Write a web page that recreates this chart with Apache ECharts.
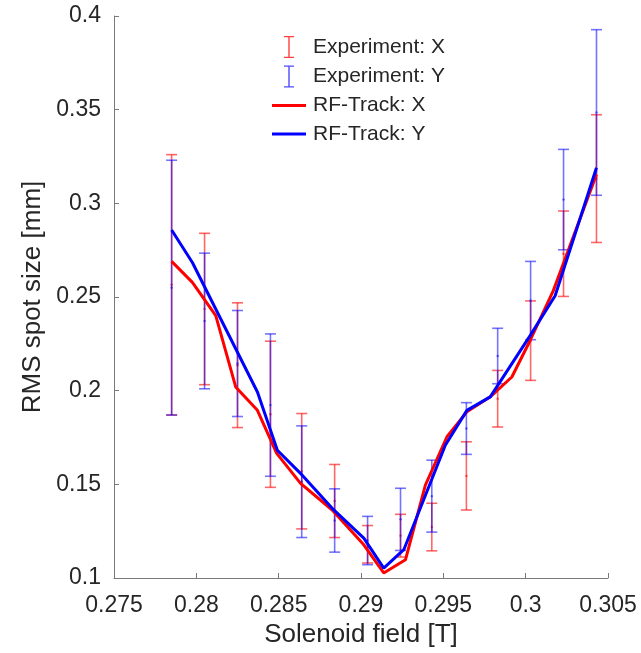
<!DOCTYPE html>
<html>
<head>
<meta charset="utf-8">
<script src="https://cdn.jsdelivr.net/npm/echarts@6/dist/echarts.min.js"></script>
<style>html,body{margin:0;padding:0;background:#fff;}#c{width:641px;height:653px;}</style>
</head>
<body>
<div id="c"></div>
<script>
// Experiment field values [T]
const expField = [0.2785, 0.2805, 0.2825, 0.2845, 0.2864, 0.2884, 0.2904, 0.2924, 0.2943, 0.2964, 0.2983, 0.3003, 0.3023, 0.3043];
// Experiment X: mean and error [mm]
const expXMean = [0.2565, 0.2436, 0.2136, 0.1874, 0.1570, 0.1411, 0.1180, 0.1226, 0.1272, 0.1545, 0.1957, 0.2267, 0.2731, 0.3132];
const expXErr  = [0.0695, 0.0404, 0.0333, 0.0390, 0.0308, 0.0195, 0.0100, 0.0114, 0.0127, 0.0182, 0.0151, 0.0212, 0.0228, 0.0341];
// Experiment Y: mean and error [mm]
const expYMean = [0.2550, 0.2372, 0.2145, 0.1923, 0.1514, 0.1307, 0.1200, 0.1313, 0.1437, 0.1798, 0.2185, 0.2481, 0.3020, 0.3485];
const expYErr  = [0.0680, 0.0362, 0.0283, 0.0380, 0.0298, 0.0169, 0.0129, 0.0166, 0.0192, 0.0138, 0.0148, 0.0209, 0.0268, 0.0442];
// RF-Track simulation X
const simXField = [0.2785, 0.27976, 0.28118, 0.28239, 0.28371, 0.28488, 0.28633, 0.28825, 0.29017, 0.29138, 0.29270, 0.29391, 0.29522, 0.29643, 0.29785, 0.29916, 0.30027, 0.30168, 0.3043];
const simXSize  = [0.2690, 0.2578, 0.2401, 0.2020, 0.1895, 0.1665, 0.1505, 0.1363, 0.1177, 0.1027, 0.1097, 0.1496, 0.1754, 0.1887, 0.1967, 0.2073, 0.2268, 0.2534, 0.3154];
// RF-Track simulation Y
const simYField = [0.2785, 0.27976, 0.28371, 0.28492, 0.28643, 0.28825, 0.29017, 0.29138, 0.29260, 0.29512, 0.29643, 0.29785, 0.30027, 0.30179, 0.3043];
const simYSize  = [0.2858, 0.2684, 0.1993, 0.1682, 0.1549, 0.1372, 0.1213, 0.1053, 0.1151, 0.1709, 0.1895, 0.1967, 0.2294, 0.2507, 0.3190];
// Tick labels
const xTicks = ['0.275', '0.28', '0.285', '0.29', '0.295', '0.3', '0.305'];
const yTicks = ['0.1', '0.15', '0.2', '0.25', '0.3', '0.35', '0.4'];

const FONT = 'Liberation Sans, Arial, sans-serif';
const TXT = '#262626';
const AX = '#7a7a7a';

function errData(mean, err) {
  return expField.map((x, i) => [x, mean[i] - err[i], mean[i] + err[i], mean[i]]);
}
function errRender(color) {
  return function (params, api) {
    const x = api.value(0);
    const lo = api.coord([x, api.value(1)]);
    const hi = api.coord([x, api.value(2)]);
    const mid = api.coord([x, api.value(3)]);
    const w = 5.5;
    const st = { stroke: color, lineWidth: 1.6, fill: null };
    return {
      type: 'group',
      children: [
        { type: 'line', shape: { x1: lo[0], y1: lo[1], x2: hi[0], y2: hi[1] }, style: st },
        { type: 'line', shape: { x1: lo[0] - w, y1: lo[1], x2: lo[0] + w, y2: lo[1] }, style: st },
        { type: 'line', shape: { x1: hi[0] - w, y1: hi[1], x2: hi[0] + w, y2: hi[1] }, style: st },
        { type: 'circle', shape: { cx: mid[0], cy: mid[1], r: 1.2 }, style: { fill: color } }
      ]
    };
  };
}
const redErr = 'rgba(255,0,0,0.6)';
const blueErr = 'rgba(0,0,255,0.55)';
const ibeam = 'path://M0,0h10v1.3h-4.3v19.4h4.3v1.3h-10v-1.3h4.3v-19.4h-4.3z';
const lineIcon = 'path://M0,0h34v3h-34z';

const chart = echarts.init(document.getElementById('c'), null, { renderer: 'canvas' });
chart.setOption({
  animation: false,
  backgroundColor: '#fff',
  grid: { left: 114, right: 33, top: 16, bottom: 73, containLabel: false },
  legend: {
    orient: 'vertical',
    left: 267,
    top: 31,
    itemGap: 7.5,
    itemWidth: 34,
    itemHeight: 22,
    textStyle: { fontFamily: FONT, fontSize: 21, color: TXT, padding: [0, 0, 0, 2] },
    data: [
      { name: 'Experiment: X', icon: ibeam, itemStyle: { color: 'rgba(255,0,0,0.75)' } },
      { name: 'Experiment: Y', icon: ibeam, itemStyle: { color: 'rgba(0,0,255,0.7)' } },
      { name: 'RF-Track: X', icon: lineIcon, itemStyle: { color: '#ff0000' } },
      { name: 'RF-Track: Y', icon: lineIcon, itemStyle: { color: '#0000ff' } }
    ]
  },
  xAxis: {
    type: 'value', min: 0.275, max: 0.305, interval: 0.005,
    name: 'Solenoid field [T]', nameLocation: 'middle', nameGap: 44,
    nameTextStyle: { fontFamily: FONT, fontSize: 26, color: TXT },
    axisLine: { show: true, lineStyle: { color: AX, width: 1 } },
    axisTick: { show: true, inside: true, length: 5, lineStyle: { color: AX } },
    axisLabel: { fontFamily: FONT, fontSize: 23, color: TXT, margin: 16,
      formatter: v => xTicks[Math.round((v - 0.275) / 0.005)] },
    splitLine: { show: false }
  },
  yAxis: {
    type: 'value', min: 0.1, max: 0.4, interval: 0.05,
    name: 'RMS spot size [mm]', nameLocation: 'middle', nameGap: 62, nameRotate: 90,
    nameTextStyle: { fontFamily: FONT, fontSize: 26, color: TXT },
    axisLine: { show: true, lineStyle: { color: AX, width: 1 } },
    axisTick: { show: true, inside: true, length: 5, lineStyle: { color: AX } },
    axisLabel: { fontFamily: FONT, fontSize: 23, color: TXT, margin: 13,
      formatter: v => yTicks[Math.round((v - 0.1) / 0.05)] },
    splitLine: { show: false }
  },
  series: [
    { name: 'Experiment: X', type: 'custom', renderItem: errRender(redErr),
      itemStyle: { color: 'rgba(255,0,0,0.75)' }, data: errData(expXMean, expXErr), z: 2 },
    { name: 'Experiment: Y', type: 'custom', renderItem: errRender(blueErr),
      itemStyle: { color: 'rgba(0,0,255,0.7)' }, data: errData(expYMean, expYErr), z: 3 },
    { name: 'RF-Track: X', type: 'line', symbol: 'none', z: 4,
      lineStyle: { color: '#ff0000', width: 3 }, itemStyle: { color: '#ff0000' },
      data: simXField.map((x, i) => [x, simXSize[i]]) },
    { name: 'RF-Track: Y', type: 'line', symbol: 'none', z: 5,
      lineStyle: { color: '#0000ff', width: 3 }, itemStyle: { color: '#0000ff' },
      data: simYField.map((x, i) => [x, simYSize[i]]) }
  ]
});
</script>
</body>
</html>
